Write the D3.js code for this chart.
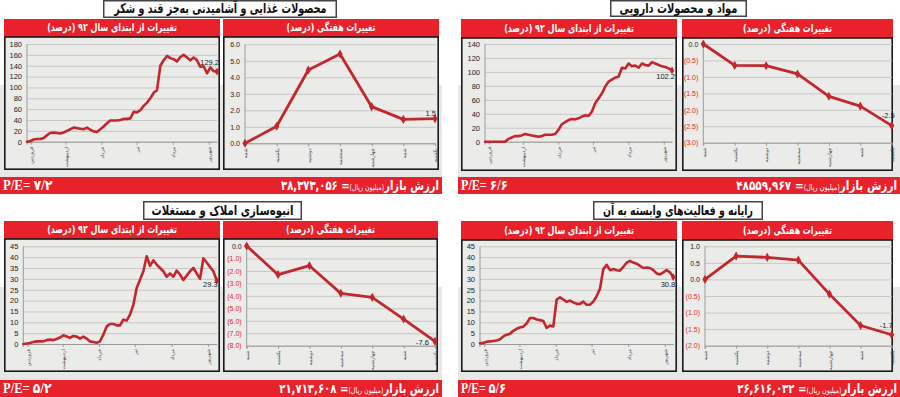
<!DOCTYPE html>
<html><head><meta charset="utf-8">
<script src="https://cdn.jsdelivr.net/npm/d3@7"></script>
<style>
body{margin:0;background:#fff;}
svg{display:block;}
</style></head><body>
<svg id="c" width="900" height="397"></svg>
<script>
// ---------------- DATA ----------------
const titles = ["محصولات غذایی و آشامیدنی به‌جز قند و شکر", "مواد و محصولات دارویی", "انبوه‌سازی املاک و مستغلات", "رایانه و فعالیت‌های وابسته به آن"];
const headerYtd = "تغییرات از ابتدای سال ۹۲ (درصد)";
const headerWeekly = "تغییرات هفتگی (درصد)";
const peValues = ["۷/۲", "۶/۶", "۵/۲", "۵/۶"];
const marketValues = ["۳۸,۳۷۳,۰۵۶", "۴۸۵۵۹,۹۶۷", "۲۱,۷۱۳,۶۰۸", "۲۶,۶۱۶,۰۳۲"];
const weekDays = ["شنبه", "یکشنبه", "دوشنبه", "سه‌شنبه", "چهارشنبه", "شنبه", "یکشنبه"];
const months = ["فروردین", "اردیبهشت", "خرداد", "تیر", "مرداد", "شهریور"];
const monthTickFrac = [0.022, 0.204, 0.392, 0.577, 0.767, 0.956];

const ytdFood = [0,1,4,5,5,7,12,16,17,16,15,17,20,23,26,25,24,23,26,22,19,18,23,28,34,39,39,39,40,42,42,43,55,54,58,66,72,80,90,95,140,150,158,154,152,148,156,160,155,150,155,150,138,139,126,137,130,129.2];
const ytdPharma = [0,0,0,0,0,0,0,4,6,8,8,9,11,10,9,8,7,8,10,10,10,11,17,25,28,31,32.5,32,33.5,36,38,37,43,55,62,69,79,86,89,92,93,106,105,112,108,109,106,112,110,109,114,112,110,108,107,105,102.2];
const ytdRealEstate = [0,0.2,0.5,0.9,1.2,1.2,1.2,1.8,2,1.8,2.3,3,4,3.5,2.8,3.7,3.4,2.5,3.4,2.5,1.2,0.9,0.6,1.2,4.3,8.1,9.2,9.2,8.6,8.6,11.2,10.8,13.5,18,25.8,29.6,33.5,40.4,36,38.5,36.6,35,33.5,31,32.5,31,33.8,32,29.5,31.5,33.5,35,32.5,30,39.5,37.5,35.5,33.5,29.3];
const ytdComputer = [0.3,0.5,1,1.2,1.4,1.6,2.2,3.5,4.3,4.7,6.1,7,7.6,8,9.5,12,12,11.3,11,10.6,7.4,8.5,8.1,20.5,21.5,20.5,19.4,20,19.2,18.5,18.5,19.5,18.1,18.1,19.5,22,25.5,34.5,36.5,34,34.5,34,33.8,35.5,37.5,38.3,37.5,37,36,35,35.2,35,34,32.5,32,33,34,33,30.8];

const weeklyFood = [0, 1.03, 4.44, 5.41, 2.22, 1.45, 1.49];
const weeklyPharma = [0, -0.65, -0.66, -0.91, -1.59, -1.89, -2.48];
const weeklyRealEstate = [0, -2.3, -1.58, -3.8, -4.12, -5.86, -7.65];
const weeklyComputer = [0, 0.705, 0.665, 0.584, -0.443, -1.39, -1.67];

const ytdTicksFood = [0,20,40,60,80,100,120,140,160,180];
const ytdTicksPharma = [0,20,40,60,80,100,120,140];
const ytdTicks45 = [0,5,10,15,20,25,30,35,40,45];
const wkTicksFood = [0,1,2,3,4,5,6];
const wkTicksPharma = [0,-0.5,-1,-1.5,-2,-2.5,-3];
const wkTicksRealEstate = [0,-1,-2,-3,-4,-5,-6,-7,-8];
const wkTicksComputer = [1,0.5,0,-0.5,-1,-1.5,-2];

const ytdLastLabels = ["129.2", "102.2", "29.3", "30.8"];
const wkLastLabels = ["1.5", "-2.5", "-7.6", "-1.7"];

// ---------------- LAYOUT ----------------
const layouts = [
  {titleBox:[103,0,337,18], titleW:213, hdr:[19,37], leftBox:[4,220], rightBox:[223,439], boxBottom:170,
   ytd:{x0:27,x1:217,yTop:44,yBot:141.7,gridR:217}, wk:{x0:245,x1:435,yTop:44.3,yBot:143.3,gridR:436},
   footer:[0,177,442,194], gray:[0,85,442,177], ytdOff:[2,-7], wkOff:[1,-3], peW:50, mvW:158},
  {titleBox:[610,0,747,17], titleW:118, hdr:[19,38], leftBox:[461,677], rightBox:[682,893], boxBottom:171,
   ytd:{x0:485,x1:672,yTop:44,yBot:141.7,gridR:673}, wk:{x0:703.3,x1:891.7,yTop:44,yBot:142.7,gridR:892},
   footer:[458,177,900,194], gray:[458,85,900,177], ytdOff:[3,9], wkOff:[3,-8], peW:47, mvW:161},
  {titleBox:[143,201,302,220], titleW:142, hdr:[221,239], leftBox:[4,220], rightBox:[223,438], boxBottom:372,
   ytd:{x0:23.3,x1:216.7,yTop:246.3,yBot:344,gridR:217}, wk:{x0:246.7,x1:435,yTop:246,yBot:345.7,gridR:436},
   footer:[0,380,442,397], gray:[0,287,442,380], ytdOff:[1,7], wkOff:[-6,3.5], peW:49, mvW:160},
  {titleBox:[593,201,763,220], titleW:150, hdr:[221,240], leftBox:[461,677], rightBox:[682,893], boxBottom:372,
   ytd:{x0:480,x1:673.3,yTop:246.3,yBot:344,gridR:674}, wk:{x0:705,x1:891.7,yTop:246.3,yBot:345.7,gridR:892},
   footer:[458,380,900,397], gray:[458,287,900,380], ytdOff:[2,9.5], wkOff:[1,-6.5], peW:45, mvW:160}
];

const panels = [
  {title:titles[0], pe:peValues[0], mv:marketValues[0], ytd:ytdFood, ytdDomain:[0,180], ytdTicks:ytdTicksFood, weekly:weeklyFood, wkDomain:[0,6], wkTicks:wkTicksFood},
  {title:titles[1], pe:peValues[1], mv:marketValues[1], ytd:ytdPharma, ytdDomain:[0,140], ytdTicks:ytdTicksPharma, weekly:weeklyPharma, wkDomain:[-3,0], wkTicks:wkTicksPharma},
  {title:titles[2], pe:peValues[2], mv:marketValues[2], ytd:ytdRealEstate, ytdDomain:[0,45], ytdTicks:ytdTicks45, weekly:weeklyRealEstate, wkDomain:[-8,0], wkTicks:wkTicksRealEstate},
  {title:titles[3], pe:peValues[3], mv:marketValues[3], ytd:ytdComputer, ytdDomain:[0,45], ytdTicks:ytdTicks45, weekly:weeklyComputer, wkDomain:[-2,1], wkTicks:wkTicksComputer}
];

// ---------------- DRAW ----------------
const svg = d3.select('#c');
const RED = '#e9212b', LINE = '#c1272d', BG = '#ebebe9', FA = '"DejaVu Sans", sans-serif', NUM = '"Liberation Sans", Arial, sans-serif';

function squeezeCenter(t, target, cx, baseY) {
  t.attr('x', 0).attr('y', 0);
  const b = t.node().getBBox();
  const k = Math.min(1.15, target / b.width);
  t.attr('x', -(b.x + b.width / 2));
  t.attr('transform', `translate(${cx},${baseY}) scale(${k},1)`);
}
function squeezeRight(t, target, xr, baseY) {
  t.attr('x', 0).attr('y', 0);
  const b = t.node().getBBox();
  const k = Math.min(1.15, target / b.width);
  t.attr('x', -(b.x + b.width));
  t.attr('transform', `translate(${xr},${baseY}) scale(${k},1)`);
}
function squeezeLeft(t, target, xl, baseY) {
  t.attr('x', 0).attr('y', 0);
  const b = t.node().getBBox();
  const k = Math.min(1.15, target / b.width);
  t.attr('x', -b.x);
  t.attr('transform', `translate(${xl},${baseY}) scale(${k},1)`);
}

function drawRect(g, x0, y0, x1, y1) {
  return g.append('rect').attr('x', x0).attr('y', y0).attr('width', x1 - x0).attr('height', y1 - y0);
}

panels.forEach((p, pi) => {
  const L = layouts[pi];
  const g = svg.append('g');

  drawRect(g, ...L.gray).attr('fill', '#e7e7e7');

  drawRect(g, L.titleBox[0] + 0.75, L.titleBox[1] + 0.75, L.titleBox[2] - 0.75, L.titleBox[3] - 0.75)
    .attr('fill', '#fff').attr('stroke', '#444').attr('stroke-width', 1.5);
  const tt = g.append('text').text(p.title).attr('direction', 'rtl').attr('text-anchor', 'middle')
    .attr('font-family', FA).attr('font-weight', 'bold').attr('font-size', 13.5).attr('fill', '#111');
  squeezeCenter(tt, L.titleW, (L.titleBox[0] + L.titleBox[2]) / 2, (L.titleBox[1] + L.titleBox[3]) / 2 + 4);

  [[L.leftBox, headerYtd, 130], [L.rightBox, headerWeekly, 89]].forEach(([bx, txt, tw]) => {
    drawRect(g, bx[0], L.hdr[0], bx[1], L.hdr[1]).attr('fill', RED);
    const ht = g.append('text').text(txt).attr('direction', 'rtl').attr('text-anchor', 'middle')
      .attr('font-family', FA).attr('font-weight', 'bold').attr('font-size', 11).attr('fill', '#fff');
    squeezeCenter(ht, tw, (bx[0] + bx[1]) / 2, (L.hdr[0] + L.hdr[1]) / 2 + 3.3);
    drawRect(g, bx[0] + 0.8, L.hdr[1], bx[1] - 0.8, L.boxBottom - 0.8)
      .attr('fill', BG).attr('stroke', '#1a1a1a').attr('stroke-width', 1.6);
  });

  // ---- YTD line chart ----
  {
    const P = L.ytd;
    const n = p.ytd.length;
    const x = d3.scaleLinear().domain([0, n - 1]).range([P.x0, P.x1]);
    const xf = d3.scaleLinear().domain([0, 1]).range([P.x0, P.x1]);
    const y = d3.scaleLinear().domain(p.ytdDomain).range([P.yBot, P.yTop]);
    const ya = g.append('g').attr('transform', `translate(${P.x0},0)`)
      .call(d3.axisLeft(y).tickValues(p.ytdTicks).tickSize(-(P.gridR - P.x0)).tickPadding(5).tickFormat(d3.format('d')));
    ya.select('.domain').remove();
    ya.selectAll('line').attr('stroke', '#c6c6c4').attr('stroke-width', 1);
    ya.selectAll('text').attr('font-family', NUM).attr('font-size', 7.5).attr('fill', '#222');
    g.append('line').attr('x1', P.x0).attr('x2', P.x0).attr('y1', P.yTop).attr('y2', P.yBot + 3).attr('stroke', '#9a9a9a');
    const xa = g.append('g').attr('transform', `translate(0,${P.yBot})`)
      .call(d3.axisBottom(xf).tickValues(monthTickFrac).tickFormat((d, i) => months[i]).tickSize(3).tickSizeOuter(0));
    xa.select('.domain').attr('stroke', '#9a9a9a');
    xa.selectAll('line').attr('stroke', '#9a9a9a');
    xa.selectAll('text').attr('font-family', FA).attr('font-size', 5).attr('fill', '#444')
      .attr('transform', 'rotate(-90)').attr('text-anchor', 'end').attr('x', -5).attr('y', 0).attr('dy', '0.35em');
    g.append('path').datum(p.ytd)
      .attr('d', d3.line().x((d, i) => x(i)).y(d => y(d)))
      .attr('fill', 'none').attr('stroke', LINE).attr('stroke-width', 2.6).attr('stroke-linejoin', 'round').attr('stroke-linecap', 'round');
    const last = p.ytd[n - 1];
    g.append('path').attr('d', d3.symbol(d3.symbolDiamond, 18)())
      .attr('transform', `translate(${x(n - 1)},${y(last)})`).attr('fill', LINE);
    g.append('text').text(ytdLastLabels[pi]).attr('x', x(n - 1) + L.ytdOff[0]).attr('y', y(last) + L.ytdOff[1])
      .attr('text-anchor', 'end').attr('font-family', NUM).attr('font-size', 7.5).attr('fill', '#222');
  }

  // ---- Weekly line chart ----
  {
    const P = L.wk;
    const idx = d3.range(p.weekly.length);
    const x = d3.scalePoint().domain(idx).range([P.x0, P.x1]);
    const y = d3.scaleLinear().domain(p.wkDomain).range([P.yBot, P.yTop]);
    const fmt = v => v < 0 ? `(${Math.abs(v).toFixed(1)})` : v.toFixed(1);
    const ya = g.append('g').attr('transform', `translate(${P.x0},0)`)
      .call(d3.axisLeft(y).tickValues(p.wkTicks).tickSize(-(P.gridR - P.x0)).tickPadding(5).tickFormat(fmt));
    ya.select('.domain').remove();
    ya.selectAll('line').attr('stroke', '#c6c6c4').attr('stroke-width', 1);
    ya.selectAll('text').attr('font-family', NUM).attr('font-size', 7)
      .attr('fill', d => d < 0 ? '#e3262d' : '#222');
    g.append('line').attr('x1', P.x0).attr('x2', P.x0).attr('y1', P.yTop).attr('y2', P.yBot + 3).attr('stroke', '#9a9a9a');
    const xa = g.append('g').attr('transform', `translate(0,${P.yBot})`)
      .call(d3.axisBottom(x).tickFormat(i => weekDays[i]).tickSize(3).tickSizeOuter(0));
    xa.select('.domain').attr('stroke', '#9a9a9a');
    xa.selectAll('line').attr('stroke', '#9a9a9a');
    xa.selectAll('text').attr('font-family', FA).attr('font-size', 5).attr('fill', '#444')
      .attr('transform', 'rotate(-90)').attr('text-anchor', 'end').attr('x', -5).attr('y', 0).attr('dy', '0.35em');
    g.append('path').datum(p.weekly)
      .attr('d', d3.line().x((d, i) => x(i)).y(d => y(d)))
      .attr('fill', 'none').attr('stroke', LINE).attr('stroke-width', 2.8).attr('stroke-linejoin', 'round');
    g.selectAll(null).data(p.weekly).join('path')
      .attr('d', d3.symbol(d3.symbolDiamond, 24)())
      .attr('transform', (d, i) => `translate(${x(i)},${y(d)})`).attr('fill', LINE);
    const li = p.weekly.length - 1;
    g.append('text').text(wkLastLabels[pi]).attr('x', x(li) + L.wkOff[0]).attr('y', y(p.weekly[li]) + L.wkOff[1])
      .attr('text-anchor', 'end').attr('font-family', NUM).attr('font-size', 7.5).attr('fill', '#222');
  }

  // ---- footer ----
  const F = L.footer;
  drawRect(g, ...F).attr('fill', RED);
  const fy = (F[1] + F[3]) / 2 + 4.5;
  const mt = g.append('text').attr('direction', 'rtl').attr('font-family', FA).attr('font-weight', 'bold')
    .attr('font-size', 13).attr('fill', '#fff');
  mt.append('tspan').text('ارزش بازار');
  mt.append('tspan').text('(میلیون ریال)').attr('font-size', 8).attr('font-weight', 'normal');
  mt.append('tspan').text('= ' + p.mv);
  squeezeRight(mt, L.mvW, F[2] - 3, fy);

  const pe = g.append('text').text('P/E= ' + p.pe).attr('font-family', '"Liberation Serif", "DejaVu Sans", serif')
    .attr('font-weight', 'bold').attr('font-size', 14).attr('fill', '#fff');
  squeezeLeft(pe, L.peW, F[0] + 3, fy);
});
</script>
</body></html>
